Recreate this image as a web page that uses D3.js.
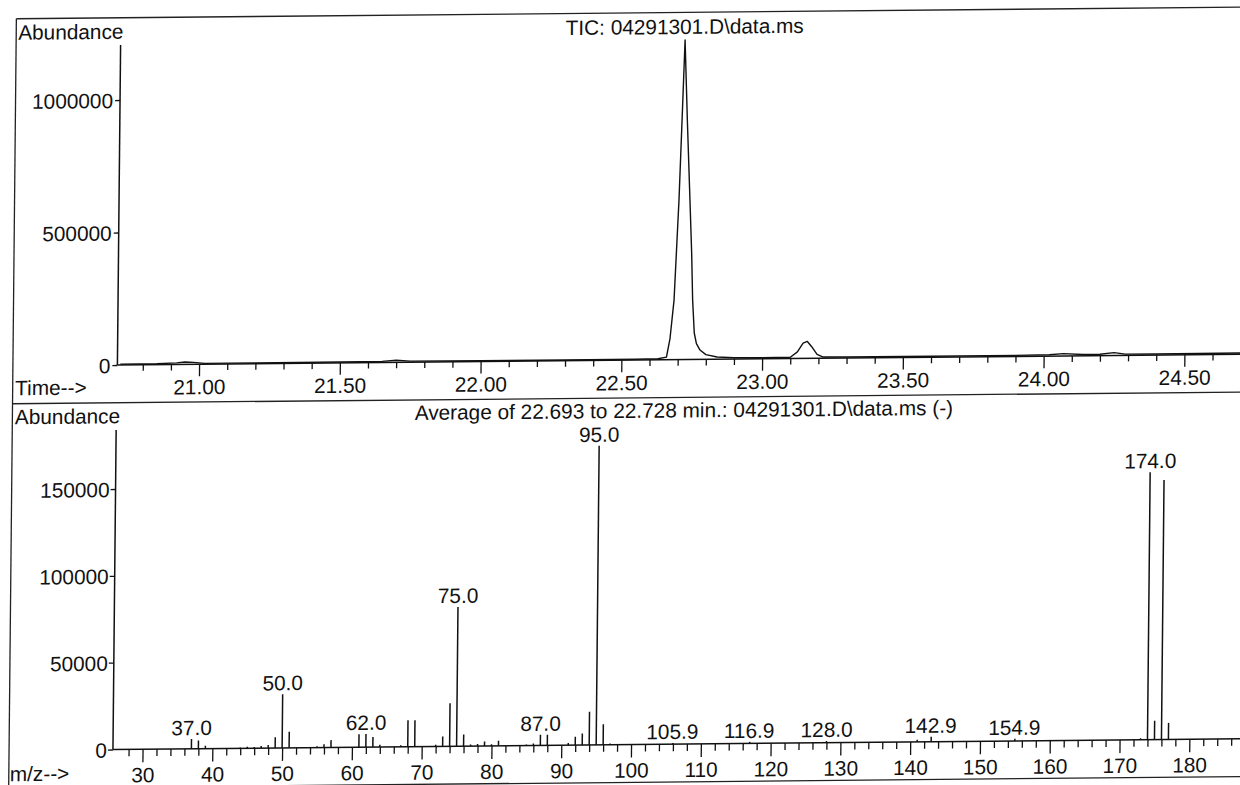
<!DOCTYPE html>
<html>
<head>
<meta charset="utf-8">
<script src="https://cdn.jsdelivr.net/npm/d3@7"></script>
<style>
  html, body { margin: 0; padding: 0; background: #fff; }
  svg { display: block; }
  text { font-family: "Liberation Sans", Arial, sans-serif; font-size: 20.8px; fill: #111; }
</style>
</head>
<body>
<script>
// ---------- DATA ----------
// Total ion chromatogram (time in min, abundance)
const ticTimes = [20.72, 20.85, 20.92, 20.95, 20.98, 21.02, 21.20, 21.50, 21.65, 21.70, 21.75, 22.00, 22.30, 22.55, 22.63, 22.66, 22.672, 22.685, 22.699, 22.707, 22.715, 22.726, 22.738, 22.746, 22.751, 22.758, 22.766, 22.779, 22.80, 22.84, 22.90, 23.00, 23.10, 23.125, 23.145, 23.16, 23.175, 23.195, 23.215, 23.30, 23.60, 23.90, 24.02, 24.07, 24.14, 24.20, 24.25, 24.29, 24.40, 24.73];
const ticAbund = [3000, 3000, 6000, 9000, 7000, 3000, 3000, 3000, 4000, 8000, 4000, 3000, 3000, 3000, 4000, 10000, 80000, 225000, 602000, 900000, 1206000, 900000, 602000, 400000, 225000, 100000, 60000, 35500, 18000, 8700, 5000, 4000, 5000, 25000, 58000, 64000, 45000, 15000, 5000, 4000, 4000, 4000, 5000, 9000, 5000, 5000, 11000, 5000, 4000, 5000];
const ticYTicks = [0, 500000, 1000000];
const ticXMajor = [21.0, 21.5, 22.0, 22.5, 23.0, 23.5, 24.0, 24.5];
const ticXMinor = [20.8, 20.9, 21.1, 21.2, 21.3, 21.4, 21.6, 21.7, 21.8, 21.9, 22.1, 22.2, 22.3, 22.4, 22.6, 22.7, 22.8, 22.9, 23.1, 23.2, 23.3, 23.4, 23.6, 23.7, 23.8, 23.9, 24.1, 24.2, 24.3, 24.4, 24.6, 24.7];

// Mass spectrum (m/z, abundance)
const mzValues = [37, 38, 39, 44, 45, 46, 47, 48, 49, 50, 51, 55, 56, 57, 61, 62, 63, 64, 67, 68, 69, 72, 73, 74, 75, 76, 77, 78, 79, 80, 81, 85, 86, 87, 88, 91, 92, 93, 94, 95, 96, 97, 106, 117, 128, 141, 143, 155, 173, 174, 175, 176, 177];
const mzAbund = [5550, 4750, 1700, 500, 900, 700, 1200, 1800, 6100, 30900, 9300, 700, 1900, 4200, 7450, 7600, 5700, 1200, 800, 15200, 15200, 1000, 5700, 24800, 80200, 6700, 900, 1200, 2500, 1000, 2900, 600, 1100, 6100, 6100, 1200, 4750, 6700, 19100, 172200, 11800, 700, 700, 900, 1000, 1200, 2800, 1200, 800, 154000, 10900, 149500, 9550];
const peakLabels = [37.0, 50.0, 62.0, 75.0, 87.0, 95.0, 105.9, 116.9, 128.0, 142.9, 154.9, 174.0];
const msYTicks = [0, 50000, 100000, 150000];
const msXMajor = [30, 40, 50, 60, 70, 80, 90, 100, 110, 120, 130, 140, 150, 160, 170, 180];
const msXMinor = [28, 32, 34, 36, 38, 42, 44, 46, 48, 52, 54, 56, 58, 62, 64, 66, 68, 72, 74, 76, 78, 82, 84, 86, 88, 92, 94, 96, 98, 102, 104, 106, 108, 112, 114, 116, 118, 122, 124, 126, 128, 132, 134, 136, 138, 142, 144, 146, 148, 152, 154, 156, 158, 162, 164, 166, 168, 172, 174, 176, 178, 182, 184, 186, 188];

// ---------- DRAW ----------
const W = 1240, H = 785;
const FONT = '"Liberation Sans", Arial, sans-serif';
const FS = "20.8px";
const svg = d3.select("body").append("svg").attr("width", W).attr("height", H);
svg.append("rect").attr("width", W).attr("height", H).attr("fill", "#fff");

// slight scan distortion of the original page
const g = svg.append("g")
  .attr("transform", "translate(620,400) matrix(1,-0.0095,-0.01,1,0,0) translate(-620,-400)");

const ink = "#111";

function styleAxis(sel, labelY) {
  sel.selectAll("path.domain").remove();
  sel.selectAll(".tick line").attr("stroke", ink).attr("stroke-width", 1.3);
  sel.selectAll(".tick text").attr("fill", ink).style("font-size", FS).style("font-family", FONT);
  if (labelY !== undefined) sel.selectAll(".tick text").attr("y", labelY).attr("dy", 0);
}

// frame
const frame = g.append("g").attr("stroke", "#222").attr("stroke-width", 1.3).attr("fill", "none");
frame.append("line").attr("x1", 12.5).attr("x2", 12.5).attr("y1", 13).attr("y2", 810);
frame.append("line").attr("x1", 12.5).attr("x2", 1270).attr("y1", 13).attr("y2", 13);
frame.append("line").attr("x1", 12.5).attr("x2", 1270).attr("y1", 398).attr("y2", 398);
frame.append("line").attr("x1", 12.5).attr("x2", 1270).attr("y1", 782.5).attr("y2", 782.5);

// ----- TIC panel -----
const xTop0 = d3.scaleLinear().domain([21, 24.5]).range([198.7, 1184]);
const xTop = d3.scaleLinear().domain([xTop0.invert(117), xTop0.invert(1270)]).range([117, 1270]);
const yTop = d3.scaleLinear().domain([0, 1000000]).range([360.2, 95.2]);

g.append("text").attr("x", 14.5).attr("y", 34).text("Abundance");
g.append("text").attr("x", 681).attr("y", 34.5).attr("text-anchor", "middle").text("TIC: 04291301.D\\data.ms");

// x axis: minor and major ticks in separate groups
const topMinor = g.append("g").attr("transform", `translate(0,${yTop(0)})`)
  .call(d3.axisBottom(xTop).tickValues(ticXMinor).tickSize(6).tickSizeOuter(0).tickFormat(""));
styleAxis(topMinor);
const topMajor = g.append("g").attr("transform", `translate(0,${yTop(0)})`)
  .call(d3.axisBottom(xTop).tickValues(ticXMajor).tickSize(12).tickSizeOuter(0).tickFormat(d3.format(".2f")));
styleAxis(topMajor, 30);
g.append("line").attr("x1", 117).attr("x2", 1270).attr("y1", yTop(0)).attr("y2", yTop(0))
  .attr("stroke", ink).attr("stroke-width", 1.5);
g.append("text").attr("x", 15).attr("y", 389.5).text("Time-->");

// y axis
const topYG = g.append("g").attr("transform", `translate(117,0)`)
  .call(d3.axisLeft(yTop).tickValues(ticYTicks).tickSize(5).tickPadding(2).tickFormat(d3.format("d")));
styleAxis(topYG);
topYG.selectAll(".tick text").attr("dy", "0.36em");
g.append("line").attr("x1", 117).attr("x2", 117).attr("y1", 40.2).attr("y2", yTop(0))
  .attr("stroke", ink).attr("stroke-width", 1.5);

// trace
const ticLine = d3.line().x(d => xTop(d[0])).y(d => yTop(d[1]));
g.append("path").datum(d3.zip(ticTimes, ticAbund))
  .attr("d", ticLine).attr("fill", "none").attr("stroke", ink).attr("stroke-width", 1.4)
  .attr("stroke-linejoin", "round");

// ----- Mass spectrum panel -----
const xBot = d3.scaleLinear().domain([30, 180]).range([146, 1192.8]);
const yBot = d3.scaleLinear().domain([0, 150000]).range([744.7, 484.2]);
const xBotAxis = xBot.copy().domain([xBot.invert(116.4), xBot.invert(1270)]).range([116.4, 1270]);

g.append("text").attr("x", 15).attr("y", 418.5).text("Abundance");
g.append("text").attr("x", 684).attr("y", 418).attr("text-anchor", "middle")
  .text("Average of 22.693 to 22.728 min.: 04291301.D\\data.ms (-)");

const botMinor = g.append("g").attr("transform", `translate(0,${yBot(0)})`)
  .call(d3.axisBottom(xBotAxis).tickValues(msXMinor).tickSize(7).tickSizeOuter(0).tickFormat(""));
styleAxis(botMinor);
const botMajor = g.append("g").attr("transform", `translate(0,${yBot(0)})`)
  .call(d3.axisBottom(xBotAxis).tickValues(msXMajor).tickSize(13).tickSizeOuter(0).tickFormat(d3.format("d")));
styleAxis(botMajor, 33);
g.append("line").attr("x1", 116.4).attr("x2", 1270).attr("y1", yBot(0)).attr("y2", yBot(0))
  .attr("stroke", ink).attr("stroke-width", 1.5);
g.append("text").attr("x", 13.5).attr("y", 775.5).text("m/z-->");

const botYG = g.append("g").attr("transform", `translate(116.4,0)`)
  .call(d3.axisLeft(yBot).tickValues(msYTicks).tickSize(5).tickPadding(1).tickFormat(d3.format("d")));
styleAxis(botYG);
botYG.selectAll(".tick text").attr("dy", "0.36em");
g.append("line").attr("x1", 116.4).attr("x2", 116.4).attr("y1", 425.2).attr("y2", yBot(0))
  .attr("stroke", ink).attr("stroke-width", 1.5);

// bars
const bars = d3.zip(mzValues, mzAbund);
g.append("g").selectAll("line").data(bars).join("line")
  .attr("x1", d => xBot(d[0])).attr("x2", d => xBot(d[0]))
  .attr("y1", yBot(0)).attr("y2", d => yBot(d[1]))
  .attr("stroke", ink).attr("stroke-width", 1.5);

// peak labels
const abundAt = mz => { const i = mzValues.indexOf(Math.round(mz)); return i >= 0 ? mzAbund[i] : 0; };
g.append("g").selectAll("text").data(peakLabels).join("text")
  .attr("x", d => xBot(d)).attr("y", d => yBot(abundAt(d)) - 4)
  .attr("text-anchor", "middle").text(d => d3.format(".1f")(d));
</script>
</body>
</html>
